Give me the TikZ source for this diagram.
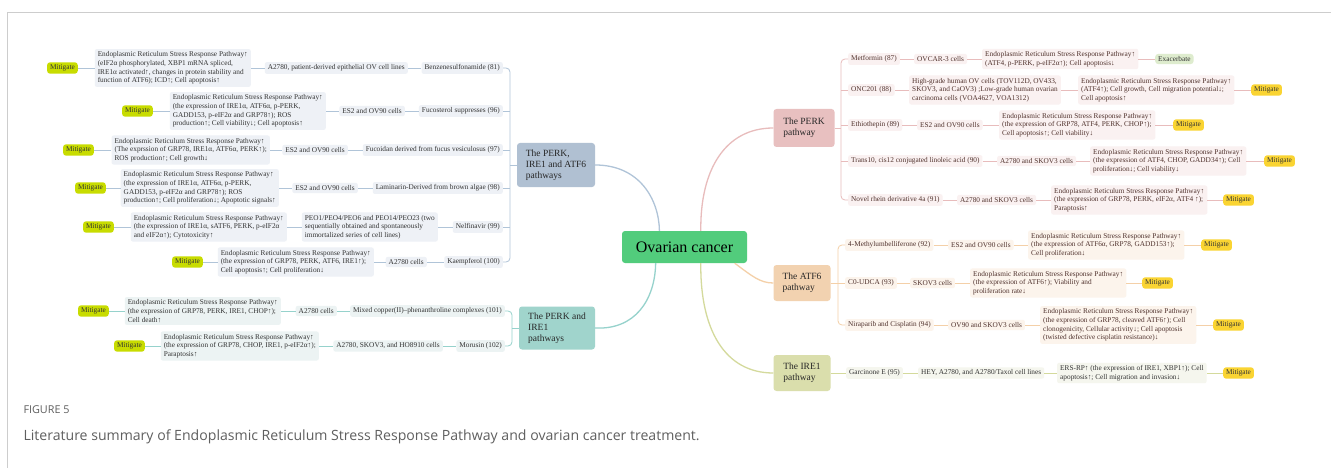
\documentclass[tikz,border=0pt]{standalone}
\usepackage{fontspec}
\setmainfont{Liberation Serif}
\newfontfamily\capfont{Open Sans}
\usepackage{tikz}
\usetikzlibrary{calc}

\definecolor{ocgreen}{RGB}{82,204,124}
\definecolor{allbox}{RGB}{176,192,210}
\definecolor{allfill}{RGB}{238,241,246}
\definecolor{allline}{RGB}{176,196,216}
\definecolor{pibox}{RGB}{160,212,204}
\definecolor{pifill}{RGB}{236,243,243}
\definecolor{piline}{RGB}{150,210,204}
\definecolor{perkbox}{RGB}{232,192,192}
\definecolor{perkfill}{RGB}{250,241,241}
\definecolor{perkline}{RGB}{232,188,188}
\definecolor{atfbox}{RGB}{242,210,176}
\definecolor{atffill}{RGB}{252,244,236}
\definecolor{atfline}{RGB}{244,208,168}
\definecolor{irebox}{RGB}{218,222,172}
\definecolor{irefill}{RGB}{245,246,238}
\definecolor{ireline}{RGB}{212,218,156}
\definecolor{mitlime}{RGB}{200,220,0}
\definecolor{mitgold}{RGB}{250,212,50}
\definecolor{exgreen}{RGB}{222,236,206}
\definecolor{txtgray}{RGB}{50,50,50}
\definecolor{txtbrown}{RGB}{80,50,45}
\definecolor{capgray}{RGB}{95,95,95}
\definecolor{framegray}{RGB}{205,205,205}

\begin{document}
\begin{tikzpicture}[x=1pt,y=-1pt,
    leaf/.style={rounded corners=2pt,inner xsep=3pt,inner ysep=2.5pt,align=left,
      font=\fontsize{7.3}{8.7}\selectfont},
    leafA/.style={leaf,fill=allfill,text=txtgray,anchor=east},
    leafB/.style={leaf,fill=pifill,text=txtgray,anchor=east},
    leafP/.style={leaf,fill=perkfill,text=txtbrown,anchor=west},
    leafT/.style={leaf,fill=atffill,text=txtbrown,anchor=west},
    leafI/.style={leaf,fill=irefill,text=txtgray,anchor=west},
    mitL/.style={leaf,fill=mitlime,text=black!80,rounded corners=3pt,anchor=east},
    mitR/.style={leaf,fill=mitgold,text=black!80,rounded corners=3pt,anchor=west},
    pathbox/.style={rounded corners=3pt,inner xsep=8pt,inner ysep=5pt,align=left,
      font=\fontsize{9.5}{11}\selectfont,text=black!85},
    lin/.style={line width=0.8pt},
    curve/.style={line width=1.3pt}]
\path[use as bounding box,fill=white] (0,0) rectangle (1331,468);
\draw[framegray] (7,468) -- (7,12) -- (1331,12);

\node[fill=ocgreen,rounded corners=3pt,minimum width=125pt,minimum height=32pt,
  font=\fontsize{16}{18}\selectfont] (oc) at (684.5,247) {Ovarian cancer};
\coordinate (ocNA) at ($(oc.north west)!0.3!(oc.north east)$);
\coordinate (ocNB) at ($(oc.north west)!0.63!(oc.north east)$);
\coordinate (ocSA) at ($(oc.south west)!0.27!(oc.south east)$);
\coordinate (ocSB) at ($(oc.south west)!0.63!(oc.south east)$);
\coordinate (ocSC) at ($(oc.south west)!0.9!(oc.south east)$);

\node[pathbox,fill=allbox,minimum width=78pt,minimum height=44pt] (pA) at (556,165) {The PERK,\\IRE1 and ATF6\\pathways};
\node[pathbox,fill=pibox,minimum width=76pt,minimum height=43pt] (pB) at (557,328) {The PERK and\\IRE1\\pathways};
\node[pathbox,fill=perkbox,minimum width=61pt,minimum height=38pt] (pP) at (804,128) {The PERK\\pathway};
\node[pathbox,fill=atfbox,minimum width=57pt,minimum height=36pt] (pT) at (802,283) {The ATF6\\pathway};
\node[pathbox,fill=irebox,minimum width=57pt,minimum height=36pt] (pI) at (802,373) {The IRE1\\pathway};

\draw[curve,allline] (pA.east) .. controls (640,165) and (659,200) .. (ocNA);
\draw[curve,piline] (pB.east) .. controls (635,330) and (655,300) .. (ocSA);
\draw[curve,perkline] (ocNB) .. controls (700,170) and (725,128) .. (pP.west);
\draw[curve,atfline] (ocSC) .. controls (752,276) and (760,283) .. (pT.west);
\draw[curve,ireline] (ocSB) .. controls (700,330) and (725,373) .. (pI.west);

\coordinate (barA) at (510,0);
\node[leafA] (dA1) at (503,68) {Benzenesulfonamide (81)};
\node[leafA] (cA1) at (408,68) {A2780, patient-derived epithelial OV cell lines};
\node[leafA] (eA1) at (251,68) {Endoplasmic Reticulum Stress Response Pathway↑\\(eIF2α phosphorylated, XBP1 mRNA spliced,\\IRE1α activated↑, changes in protein stability and\\function of ATF6); ICD↑; Cell apoptosis↑};
\node[mitL] (mA1) at (78,68) {Mitigate};
\node[leafA] (dA2) at (503,111) {Fucosterol suppresses (96)};
\node[leafA] (cA2) at (405,111) {ES2 and OV90 cells};
\node[leafA] (eA2) at (326,111) {Endoplasmic Reticulum Stress Response Pathway↑\\(the expression of IRE1α, ATF6α, p-PERK,\\GADD153, p-eIF2α and GRP78↑); ROS\\production↑; Cell viability↓; Cell apoptosis↑};
\node[mitL] (mA2) at (153,111) {Mitigate};
\node[leafA] (dA3) at (503,150) {Fucoidan derived from fucus vesiculosus (97)};
\node[leafA] (cA3) at (348,150) {ES2 and OV90 cells};
\node[leafA] (eA3) at (270,150) {Endoplasmic Reticulum Stress Response Pathway↑\\(The exprssion of GRP78, IRE1α, ATF6α, PERK↑);\\ROS production↑; Cell growth↓};
\node[mitL] (mA3) at (94,150) {Mitigate};
\node[leafA] (dA4) at (503,188) {Laminarin-Derived from brown algae (98)};
\node[leafA] (cA4) at (358,188) {ES2 and OV90 cells};
\node[leafA] (eA4) at (279,188) {Endoplasmic Reticulum Stress Response Pathway↑\\(the expression of IRE1α, ATF6α, p-PERK,\\GADD153, p-eIF2α and GRP78↑); ROS\\production↑; Cell proliferation↓; Apoptotic signals↑};
\node[mitL] (mA4) at (106,188) {Mitigate};
\node[leafA] (dA5) at (503,227) {Nelfinavir (99)};
\node[leafA] (cA5) at (438,227) {PEO1/PEO4/PEO6 and PEO14/PEO23 (two\\sequentially obtained and spontaneously\\immortalized series of cell lines)};
\node[leafA] (eA5) at (287,227) {Endoplasmic Reticulum Stress Response Pathway↑\\(the expression of IRE1α, sATF6, PERK, p-eIF2α\\and eIF2α↑); Cytotoxicity↑};
\node[mitL] (mA5) at (114,227) {Mitigate};
\node[leafA] (dA6) at (503,262) {Kaempferol (100)};
\node[leafA] (cA6) at (427,262) {A2780 cells};
\node[leafA] (eA6) at (374,262) {Endoplasmic Reticulum Stress Response Pathway↑\\(the expression of GRP78, PERK, ATF6, IRE1↑);\\Cell apoptosis↑; Cell proliferation↓};
\node[mitL] (mA6) at (203,262) {Mitigate};

\draw[lin,allline] (mA1) -- (eA1) -- (cA1) -- (dA1);
\draw[lin,allline] (mA2) -- (eA2) -- (cA2) -- (dA2);
\draw[lin,allline] (mA3) -- (eA3) -- (cA3) -- (dA3);
\draw[lin,allline] (mA4) -- (eA4) -- (cA4) -- (dA4);
\draw[lin,allline] (mA5) -- (eA5) -- (cA5) -- (dA5);
\draw[lin,allline] (mA6) -- (eA6) -- (cA6) -- (dA6);
\draw[lin,allline,rounded corners=4pt] (dA1.east) -- (barA |- dA1.east) -- (barA |- dA6.east) -- (dA6.east);
\draw[lin,allline] (dA2.east) -- (barA |- dA2.east) (dA3.east) -- (barA |- dA3.east)
  (dA4.east) -- (barA |- dA4.east) (dA5.east) -- (barA |- dA5.east)
  (pA.west) -- (barA |- pA.west);

\coordinate (barB) at (512,0);
\node[leafB] (dB1) at (505,311) {Mixed copper(II)–phenanthroline complexes (101)};
\node[leafB] (cB1) at (337,311) {A2780 cells};
\node[leafB] (eB1) at (281,311) {Endoplasmic Reticulum Stress Response Pathway↑\\(the expression of GRP78, PERK, IRE1, CHOP↑);\\Cell death↑};
\node[mitL] (mB1) at (109,311) {Mitigate};
\node[leafB] (dB2) at (505,346) {Morusin (102)};
\node[leafB] (cB2) at (443,346) {A2780, SKOV3, and HO8910 cells};
\node[leafB] (eB2) at (319,346) {Endoplasmic Reticulum Stress Response Pathway↑\\(the expression of GRP78, CHOP, IRE1, p-eIF2α↑);\\Paraptosis↑};
\node[mitL] (mB2) at (145,346) {Mitigate};

\draw[lin,piline] (mB1) -- (eB1) -- (cB1) -- (dB1);
\draw[lin,piline] (mB2) -- (eB2) -- (cB2) -- (dB2);
\draw[lin,piline,rounded corners=4pt] (dB1.east) -- (barB |- dB1.east) -- (barB |- dB2.east) -- (dB2.east);
\draw[lin,piline] (pB.west) -- (barB |- pB.west);

\coordinate (barP) at (841,0);
\node[leafP] (dP1) at (848,59) {Metformin (87)};
\node[leafP] (cP1) at (914,59) {OVCAR-3 cells};
\node[leafP] (eP1) at (982,59) {Endoplasmic Reticulum Stress Response Pathway↑\\(ATF4, p-PERK, p-eIF2α↑); Cell apoptosis↓};
\node[leaf,fill=exgreen,text=black!80,rounded corners=3pt,anchor=west] (xP1) at (1155,59) {Exacerbate};
\node[leafP] (dP2) at (848,90) {ONC201 (88)};
\node[leafP] (cP2) at (909,90) {High-grade human OV cells (TOV112D, OV433,\\SKOV3, and CaOV3) ;Low-grade human ovarian\\carcinoma cells (VOA4627, VOA1312)};
\node[leafP] (eP2) at (1078,90) {Endoplasmic Reticulum Stress Response Pathway↑\\(ATF4↑); Cell growth, Cell migration potential↓;\\Cell apoptosis↑};
\node[mitR] (mP2) at (1251,90) {Mitigate};
\node[leafP] (dP3) at (848,125) {Ethiothepin (89)};
\node[leafP] (cP3) at (917,125) {ES2 and OV90 cells};
\node[leafP] (eP3) at (999,125) {Endoplasmic Reticulum Stress Response Pathway↑\\(the expression of GRP78, ATF4, PERK, CHOP↑);\\Cell apoptosis↑; Cell viability↓};
\node[mitR] (mP3) at (1173,125) {Mitigate};
\node[leafP] (dP4) at (848,161) {Trans10, cis12 conjugated linoleic acid (90)};
\node[leafP] (cP4) at (997,161) {A2780 and SKOV3 cells};
\node[leafP] (eP4) at (1090,161) {Endoplasmic Reticulum Stress Response Pathway↑\\(the expression of ATF4, CHOP, GADD34↑); Cell\\proliferation↓; Cell viability↓};
\node[mitR] (mP4) at (1264,161) {Mitigate};
\node[leafP] (dP5) at (848,200) {Novel rhein derivative 4a (91)};
\node[leafP] (cP5) at (957,200) {A2780 and SKOV3 cells};
\node[leafP] (eP5) at (1051,200) {Endoplasmic Reticulum Stress Response Pathway↑\\(the expression of GRP78, PERK, eIF2α, ATF4 ↑);\\Paraptosis↑};
\node[mitR] (mP5) at (1223,200) {Mitigate};

\draw[lin,perkline] (dP1) -- (cP1) -- (eP1) -- (xP1);
\draw[lin,perkline] (dP2) -- (cP2) -- (eP2) -- (mP2);
\draw[lin,perkline] (dP3) -- (cP3) -- (eP3) -- (mP3);
\draw[lin,perkline] (dP4) -- (cP4) -- (eP4) -- (mP4);
\draw[lin,perkline] (dP5) -- (cP5) -- (eP5) -- (mP5);
\draw[lin,perkline,rounded corners=4pt] (dP1.west) -- (barP |- dP1.west) -- (barP |- dP5.west) -- (dP5.west);
\draw[lin,perkline] (dP2.west) -- (barP |- dP2.west) (dP3.west) -- (barP |- dP3.west)
  (dP4.west) -- (barP |- dP4.west) (pP.east) -- (barP |- pP.east);

\coordinate (barT) at (838,0);
\node[leafT] (dT1) at (845,245) {4-Methylumbelliferone (92)};
\node[leafT] (cT1) at (948,245) {ES2 and OV90 cells};
\node[leafT] (eT1) at (1028,245) {Endoplasmic Reticulum Stress Response Pathway↑\\(the expression of ATF6α, GRP78, GADD153↑);\\Cell proliferation↓};
\node[mitR] (mT1) at (1201,245) {Mitigate};
\node[leafT] (dT2) at (845,283) {C0-UDCA (93)};
\node[leafT] (cT2) at (910,283) {SKOV3 cells};
\node[leafT] (eT2) at (970,283) {Endoplasmic Reticulum Stress Response Pathway↑\\(the expression of ATF6↑); Viability and\\proliferation rate↓};
\node[mitR] (mT2) at (1142,283) {Mitigate};
\node[leafT] (dT3) at (845,325) {Niraparib and Cisplatin (94)};
\node[leafT] (cT3) at (948,325) {OV90 and SKOV3 cells};
\node[leafT] (eT3) at (1040,325) {Endoplasmic Reticulum Stress Response Pathway↑\\(the expression of GRP78, cleaved ATF6↑); Cell\\clonogenicity, Cellular activity↓; Cell apoptosis\\(twisted defective cisplatin resistance)↓};
\node[mitR] (mT3) at (1213,325) {Mitigate};

\draw[lin,atfline] (dT1) -- (cT1) -- (eT1) -- (mT1);
\draw[lin,atfline] (dT2) -- (cT2) -- (eT2) -- (mT2);
\draw[lin,atfline] (dT3) -- (cT3) -- (eT3) -- (mT3);
\draw[lin,atfline,rounded corners=4pt] (dT1.west) -- (barT |- dT1.west) -- (barT |- dT3.west) -- (dT3.west);
\draw[lin,atfline] (pT.east) -- (dT2.west);

\node[leafI] (dI1) at (846,373) {Garcinone E (95)};
\node[leafI] (cI1) at (918,373) {HEY, A2780, and A2780/Taxol cell lines};
\node[leafI] (eI1) at (1057,373) {ERS-RP↑ (the expression of IRE1, XBP1↑); Cell\\apoptosis↑; Cell migration and invasion↓};
\node[mitR] (mI1) at (1223,373) {Mitigate};
\draw[lin,ireline] (pI) -- (dI1) -- (cI1) -- (eI1) -- (mI1);

\node[anchor=base west,font=\capfont\fontsize{10.8}{12}\selectfont,text=capgray] (fig) at (20,413) {FIGURE 5};
\node[anchor=base west,font=\capfont\fontsize{14.1}{16}\selectfont,text=capgray] (cap) at (20,440) {Literature summary of Endoplasmic Reticulum Stress Response Pathway and ovarian cancer treatment.};
\end{tikzpicture}
\end{document}
